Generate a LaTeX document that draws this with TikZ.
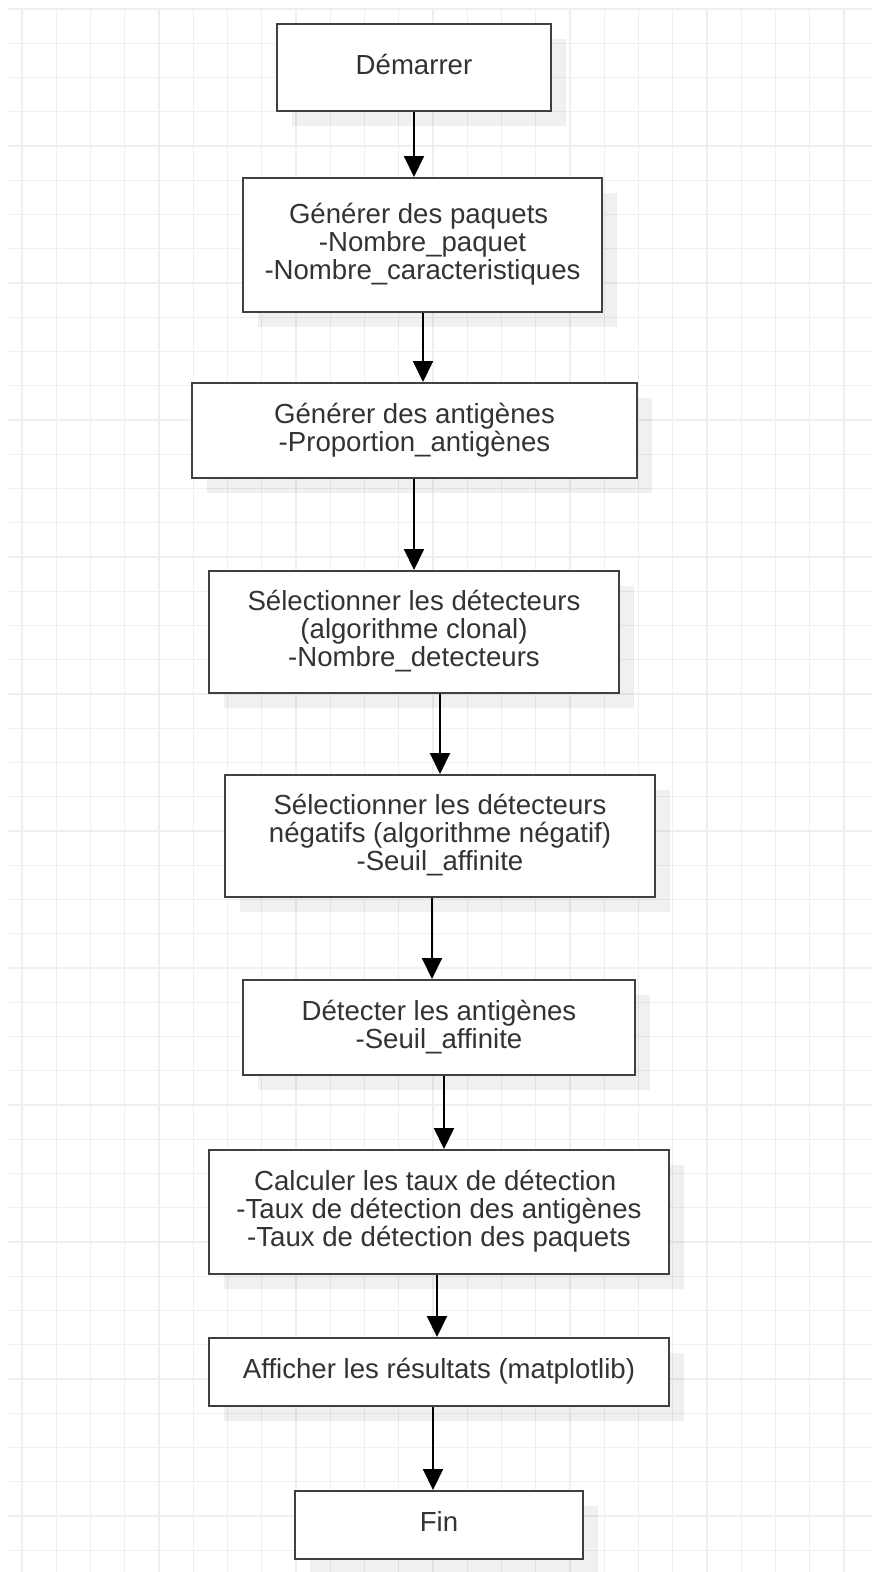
\documentclass[tikz,border=0pt]{standalone}
\usepackage{fontspec}
\setmainfont{Liberation Sans}
\usetikzlibrary{arrows.meta,shadows}
\definecolor{txt}{HTML}{333333}
\definecolor{gridc}{HTML}{EFEFEF}
\newcommand\lstrut{\rule[-7.2pt]{0pt}{28pt}}
\newcommand\tsp{\hspace*{0.278em}}
\begin{document}
\begin{tikzpicture}[x=1pt,y=-1pt,
  box/.style={draw=black!75, line width=2pt, fill=white, inner sep=0pt, align=center,
    text=txt, font=\fontsize{27.6}{28}\selectfont,
    drop shadow={shadow xshift=15pt, shadow yshift=-15pt, fill=black, opacity=0.06}},
  arr/.style={draw=black, line width=2pt, -{Triangle[length=21pt,width=20pt]}},
  gridline/.style={draw=gridc, line width=1.2pt}]
\useasboundingbox (0,0) rectangle (872,1572);
\fill[white] (0,0) rectangle (872,1572);
\foreach \i in {0,...,24} \draw[gridline] (22+34.25*\i,9) -- (22+34.25*\i,1572);
\foreach \j in {0,...,45} \draw[gridline] (8,9+34.25*\j) -- (872,9+34.25*\j);

\node[box, minimum width=274, minimum height=87] (b1) at (414,67.5) {\lstrut Démarrer};
\node[box, minimum width=359, minimum height=134] (b2) at (422.5,245)
  {\lstrut Générer des paquets\tsp\\\lstrut -Nombre\_paquet\\\lstrut -Nombre\_caracteristiques};
\node[box, minimum width=445, minimum height=95] (b3) at (414.5,430.5)
  {\lstrut Générer des antigènes\\\lstrut -Proportion\_antigènes};
\node[box, minimum width=410, minimum height=122] (b4) at (414,632)
  {\lstrut Sélectionner les détecteurs\\\lstrut (algorithme clonal)\\\lstrut -Nombre\_detecteurs};
\node[box, minimum width=430, minimum height=122] (b5) at (440,836)
  {\lstrut Sélectionner les détecteurs\\\lstrut négatifs (algorithme négatif)\\\lstrut -Seuil\_affinite};
\node[box, minimum width=392, minimum height=95] (b6) at (439,1027.5)
  {\lstrut Détecter les antigènes\\\lstrut -Seuil\_affinite};
\node[box, minimum width=460, minimum height=124] (b7) at (439,1212)
  {\lstrut Calculer les taux de détection\tsp\\\lstrut -Taux de détection des antigènes\\\lstrut -Taux de détection des paquets};
\node[box, minimum width=460, minimum height=68] (b8) at (439,1372)
  {\lstrut Afficher les résultats (matplotlib)};
\node[box, minimum width=288, minimum height=68] (b9) at (439,1525) {\lstrut Fin};

\coordinate (x1) at (414,0);
\coordinate (x2) at (423,0);
\coordinate (x3) at (414,0);
\coordinate (x4) at (440,0);
\coordinate (x5) at (432,0);
\coordinate (x6) at (444,0);
\coordinate (x7) at (437,0);
\coordinate (x8) at (433,0);
\draw[arr] (b1.south -| x1) -- (b2.north -| x1);
\draw[arr] (b2.south -| x2) -- (b3.north -| x2);
\draw[arr] (b3.south -| x3) -- (b4.north -| x3);
\draw[arr] (b4.south -| x4) -- (b5.north -| x4);
\draw[arr] (b5.south -| x5) -- (b6.north -| x5);
\draw[arr] (b6.south -| x6) -- (b7.north -| x6);
\draw[arr] (b7.south -| x7) -- (b8.north -| x7);
\draw[arr] (b8.south -| x8) -- (b9.north -| x8);
\end{tikzpicture}
\end{document}
